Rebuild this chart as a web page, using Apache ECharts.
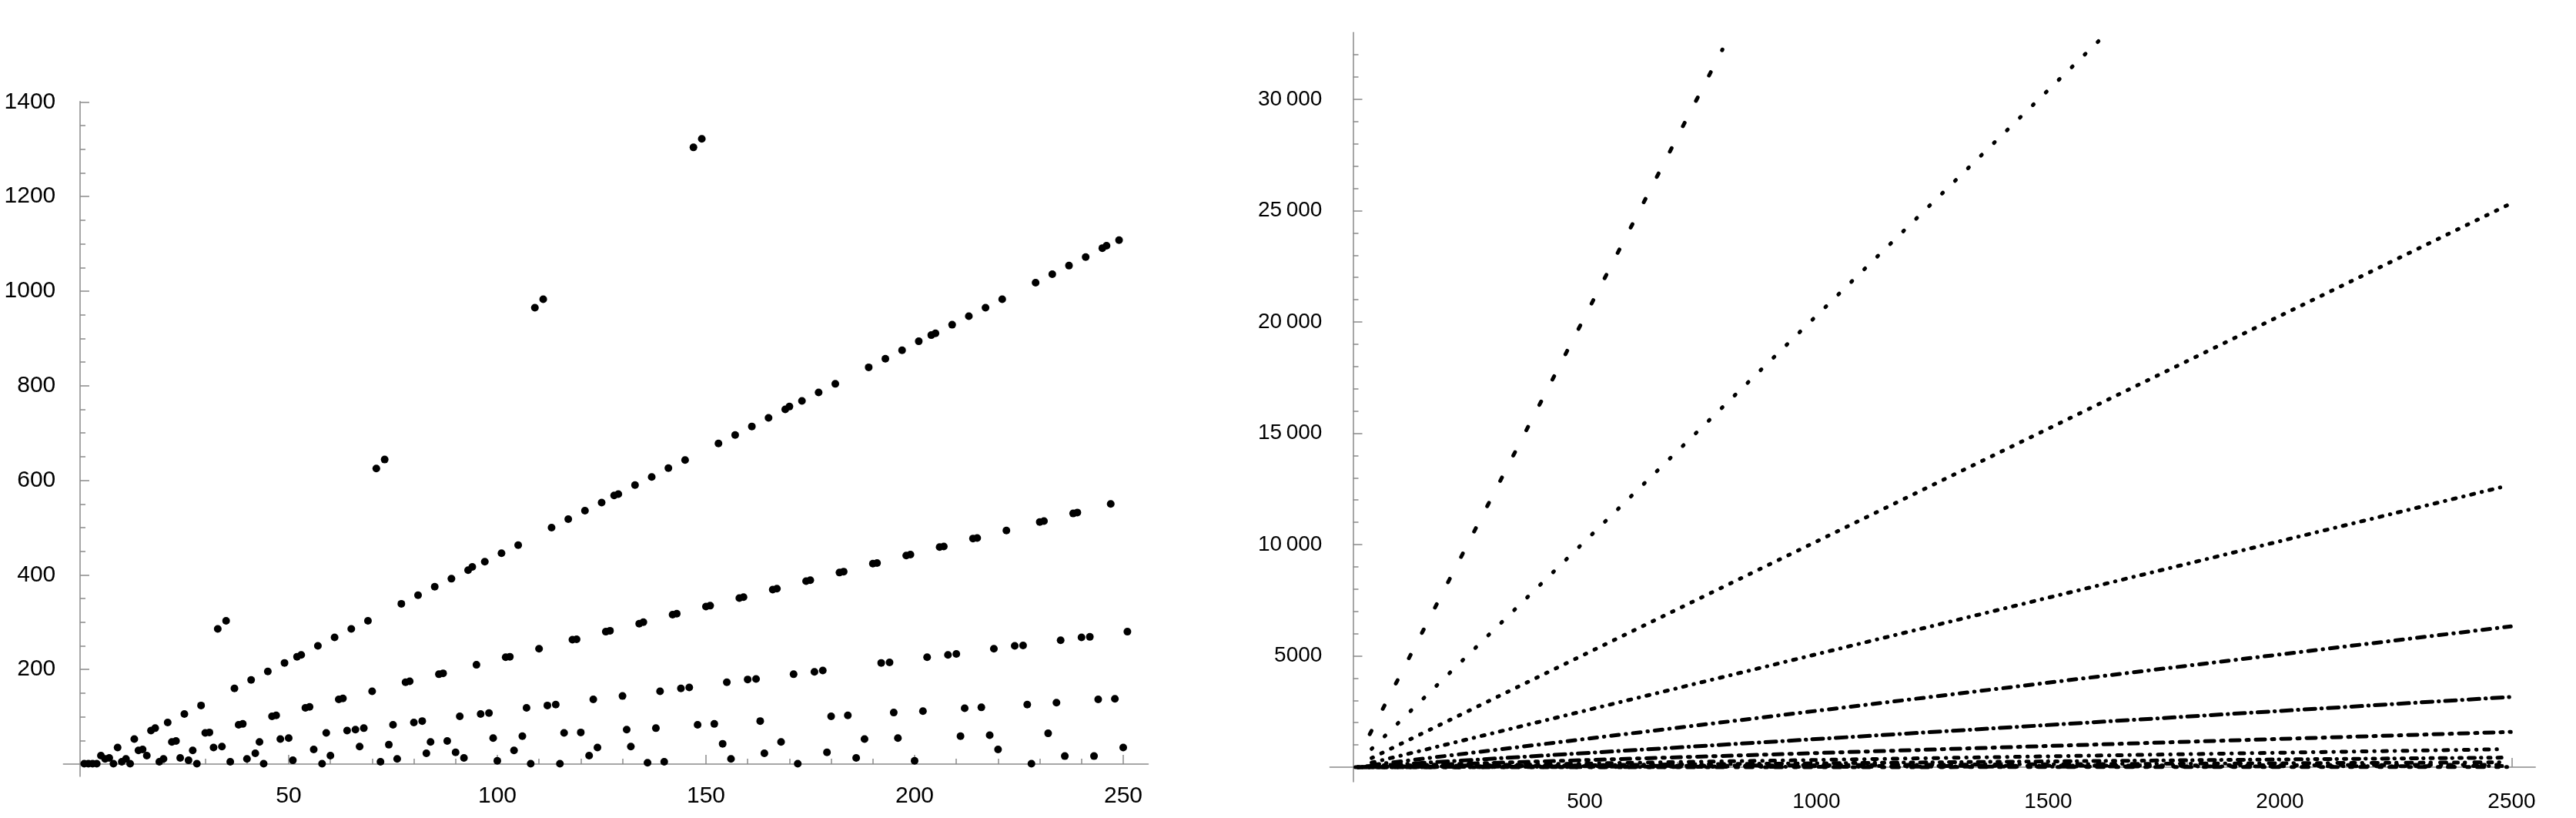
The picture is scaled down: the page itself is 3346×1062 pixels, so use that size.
<!DOCTYPE html>
<html lang="en">
<head>
    <meta charset="UTF-8">
    <title>Sequence plots</title>
    <style>
        html, body { margin: 0; padding: 0; background: #fff; }
        #chart { width: 3346px; height: 1062px; }
    </style>
</head>
<body>
<div id="chart"></div>

<script src="https://cdn.jsdelivr.net/npm/echarts@6/dist/echarts.min.js"></script>
<script>
// left panel: one value per n = 1..251 (null = above the plot range, not drawn)
const leftValues = [
    1, 1, 1, 1, 18, 11, 13, 1, 35, 5,
    11, 1, 53, 29, 31, 18, 71, 76, 5, 11,
    88, 47, 49, 13, 106, 8, 29, 1, 124, 66,
    67, 35, 286, 37, 303, 5, 160, 83, 85, 11,
    178, 23, 47, 1, 196, 101, 103, 53, 214, 55,
    8, 227, 231, 119, 121, 31, 250, 1, 66, 18,
    268, 137, 139, 71, 286, 73, 37, 76, 303, 154,
    625, 5, 644, 41, 83, 11, 339, 173, 175, 88,
    357, 91, 23, 47, 375, 190, 192, 49, 392, 25,
    101, 13, 410, 417, 210, 106, 428, 108, 55, 7,
    446, 226, 227, 29, 463, 59, 119, 1, 965, 244,
    983, 124, 500, 126, 1, 66, 518, 263, 264, 67,
    536, 18, 137, 35, 553, 280, 282, 568, 571, 144,
    73, 37, 590, 297, 300, 3, 607, 76, 154, 5,
    626, 316, 318, 160, 643, 162, 1304, 83, 1322, 333,
    335, 85, 678, 43, 173, 11, 696, 351, 353, 179,
    714, 180, 91, 23, 732, 369, 371, 47, 750, 756,
    190, 1, 768, 387, 389, 195, 786, 198, 25, 101,
    804, 405, 407, 103, null, 13, null, 53, 839, 424,
    425, 214, 857, 215, 109, 55, 875, 441, 443, 7,
    894, 112, 226, 907, 911, 459, 460, 231, 929, 233,
    59, 118, 947, 477, 478, 120, 965, 61, 244, 31,
    983, 494, null, 250, null, 251, 126, 1, 1018, 512,
    514, 65, 1036, 130, 262, 17, 1054, 530, 532, 268,
    1072, 269, 17, 137, 1091, 1096, 550, 138, 1108, 35,
    280
];
const leftXTicks = [50, 100, 150, 200, 250];
const leftYTicks = [200, 400, 600, 800, 1000, 1200, 1400];

// right panel: the dotted rays, start and end point of each
const rayStartX = [36, 40, 40, 40, 40, 30, 30, 20, 20, 10, 10, 10, 5];
const rayStartY = [1480, 820, 410, 200, 100, 40, 20, 8, 4, 0, 0, 0, 0];
const rayEndX = [797, 1621, 2496, 2482, 2498, 2498, 2498, 2481, 2478, 2490, 2490, 2490, 2490];
const rayEndY = [32240, 32870, 25300, 12600, 6325, 3155, 1585, 806, 430, 220, 110, 50, 10];
const rightXTicks = [500, 1000, 1500, 2000, 2500];
const rightYTicks = [5000, 10000, 15000, 20000, 25000, 30000];
const rightYLabels = ['5000', '10\u2009000', '15\u2009000', '20\u2009000', '25\u2009000', '30\u2009000'];

// dash look of each ray (pixels)
const rayDash = [
    [5, 32], [1.5, 22], [2, 12], [4, 10, 0.5, 10], [10, 9, 0.5, 9], [14, 8, 0.5, 8],
    [12, 9, 3, 9], [6, 10, 0.5, 10], [3, 9, 8, 8, 0.5, 9], [5, 9, 0.5, 12, 8, 10],
    [2, 13, 0.5, 9, 4, 15], [6, 14, 0.5, 11], [3, 10, 9, 16]
];

const axisColor = '#8a8a8a';

function minorTicks(step, from, to, majorStep) {
    const out = [];
    for (let v = from; v <= to; v += step) {
        if (v % majorStep !== 0) out.push(v);
    }
    return out;
}

function majorAxis(gridIndex, position, min, max, ticks, fontSize, margin, formatter) {
    return {
        type: 'value', gridIndex: gridIndex, position: position, min: min, max: max,
        axisLine: { onZero: true, lineStyle: { color: axisColor, width: 1.5 } },
        splitLine: { show: false },
        axisTick: { inside: true, length: 12, customValues: ticks, lineStyle: { color: axisColor, width: 1.5 } },
        axisLabel: {
            customValues: ticks, margin: margin, formatter: formatter || (v => String(v)),
            color: '#000', fontSize: fontSize, fontFamily: '"Liberation Sans", Arial, sans-serif'
        }
    };
}

function minorAxis(gridIndex, position, min, max, ticks) {
    return {
        type: 'value', gridIndex: gridIndex, position: position, min: min, max: max,
        axisLine: { show: false, onZero: true },
        splitLine: { show: false },
        axisTick: { inside: true, length: 7, customValues: ticks, lineStyle: { color: axisColor, width: 1.5 } },
        axisLabel: { show: false }
    };
}

const chart = echarts.init(document.getElementById('chart'));

const leftPoints = [];
leftValues.forEach((v, i) => { if (v !== null) leftPoints.push([i + 1, v]); });

const raySeries = rayEndX.map((ex, i) => ({
    type: 'line',
    xAxisIndex: 2, yAxisIndex: 2,
    data: [[rayStartX[i], rayStartY[i]], [ex, rayEndY[i]]],
    showSymbol: false, symbol: 'none', silent: true,
    lineStyle: { color: '#000', width: 5, type: rayDash[i], cap: 'round' }
}));

chart.setOption({
    animation: false,
    grid: [
        { left: 82.3, top: 131.8, width: 1409.2, height: 876.2 },
        { left: 1727.4, top: 42.3, width: 1565.8, height: 972.8 }
    ],
    xAxis: [
        majorAxis(0, 'bottom', -4, 256, leftXTicks, 30, 11),
        minorAxis(0, 'bottom', -4, 256, minorTicks(10, 10, 250, 50)),
        majorAxis(1, 'bottom', -50, 2551, rightXTicks, 28, 12),
        minorAxis(1, 'bottom', -50, 2551, minorTicks(100, 100, 2500, 500))
    ],
    yAxis: [
        majorAxis(0, 'left', -26, 1401, leftYTicks, 30, 10),
        minorAxis(0, 'left', -26, 1401, minorTicks(50, 50, 1400, 200)),
        majorAxis(1, 'left', -660, 33000, rightYTicks, 28, 10,
            v => rightYLabels[rightYTicks.indexOf(v)] || String(v)),
        minorAxis(1, 'left', -660, 33000, minorTicks(1000, 1000, 32000, 5000))
    ],
    series: [
        {
            type: 'scatter', xAxisIndex: 0, yAxisIndex: 0,
            data: leftPoints, symbolSize: 10, silent: true,
            itemStyle: { color: '#000', opacity: 1 }
        }
    ].concat(raySeries)
});
</script>
</body>
</html>
